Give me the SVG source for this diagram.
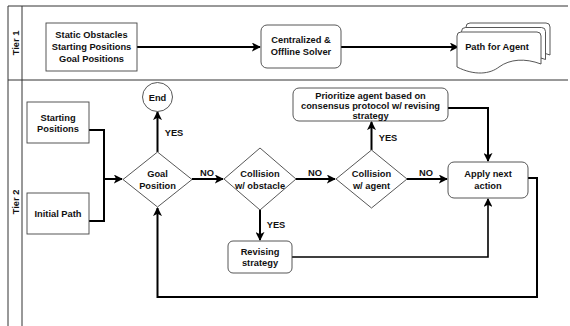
<svg xmlns="http://www.w3.org/2000/svg" width="570" height="326" viewBox="0 0 570 326">
<style>
text{font-family:"Liberation Sans",Arial,sans-serif;font-weight:bold;font-size:9.3px;fill:#111;text-anchor:middle}
.shape{fill:#fff;stroke:#444;stroke-width:0.9}
.frame{fill:none;stroke:#333;stroke-width:1}
.conn{fill:none;stroke:#000;stroke-width:2}
.conn1{fill:none;stroke:#000;stroke-width:1.6}
</style>
<defs>
<marker id="ah" viewBox="0 0 10 10" refX="9" refY="5" markerWidth="4.5" markerHeight="4.5" orient="auto" markerUnits="strokeWidth">
<path d="M0,0 L10,5 L0,10 L2.5,5 Z" fill="#000"/>
</marker>
<marker id="ah1" viewBox="0 0 10 10" refX="9" refY="5" markerWidth="5.5" markerHeight="5.5" orient="auto" markerUnits="strokeWidth">
<path d="M0,0 L10,5 L0,10 L2.5,5 Z" fill="#000"/>
</marker>
</defs>
<rect width="570" height="326" fill="#fff"/>
<g id="lanes">
<line class="frame" x1="8" y1="6" x2="568" y2="6"/>
<line class="frame" x1="8" y1="80" x2="568" y2="80"/>
<line class="frame" x1="8" y1="6" x2="8" y2="326"/>
<line class="frame" x1="22" y1="6" x2="22" y2="326"/>
<text transform="translate(18.5,43) rotate(-90)">Tier 1</text>
<text transform="translate(18.5,202) rotate(-90)">Tier 2</text>
</g>
<g id="connectors">
<line class="conn" x1="137" y1="47" x2="260" y2="47" marker-end="url(#ah)"/>
<line class="conn" x1="341" y1="47" x2="458" y2="47" marker-end="url(#ah)"/>
<polyline class="conn" points="89,130 104,130 104,221 89,221"/>
<line class="conn" x1="104" y1="179" x2="122" y2="179" marker-end="url(#ah)"/>
<line class="conn" x1="157.5" y1="152" x2="157.5" y2="112" marker-end="url(#ah)"/>
<line class="conn" x1="192" y1="179" x2="223" y2="179" marker-end="url(#ah)"/>
<line class="conn" x1="296" y1="179" x2="335" y2="179" marker-end="url(#ah)"/>
<line class="conn" x1="407" y1="179" x2="447" y2="179" marker-end="url(#ah)"/>
<line class="conn" x1="371.5" y1="150" x2="371.5" y2="122" marker-end="url(#ah)"/>
<polyline class="conn" points="448,108 488,108 488,161" marker-end="url(#ah)"/>
<line class="conn" x1="260" y1="210" x2="260" y2="240" marker-end="url(#ah)"/>
<polyline class="conn1" points="292,257 488,257 488,199" marker-end="url(#ah1)"/>
<polyline class="conn" points="528,178 537,178 537,297 157.5,297 157.5,208" marker-end="url(#ah)"/>
<text x="174" y="136">YES</text>
<text x="207" y="176">NO</text>
<text x="315" y="176">NO</text>
<text x="426" y="176">NO</text>
<text x="388" y="141">YES</text>
<text x="276" y="228">YES</text>
</g>
<g id="inputs-t1">
<rect class="shape" x="46" y="23" width="91" height="48"/>
<text x="91.5" y="38">Static Obstacles</text>
<text x="91.5" y="50">Starting Positions</text>
<text x="91.5" y="62">Goal Positions</text>
</g>
<g id="solver">
<rect class="shape" x="261" y="25" width="80" height="43" rx="6"/>
<text x="301" y="43">Centralized &amp;</text>
<text x="301" y="55">Offline Solver</text>
</g>
<g id="path-agent">
<path class="shape" d="M466,27 Q466,23 470,23 L546,23 Q550,23 550,27 L550,55 C534,49 519,50 508,58 C499,65 484,67 466,58 Z"/>
<path class="shape" d="M461.5,31.5 Q461.5,27.5 465.5,27.5 L541.5,27.5 Q545.5,27.5 545.5,31.5 L545.5,59.5 C529.5,53.5 514.5,54.5 503.5,62.5 C494.5,69.5 479.5,71.5 461.5,62.5 Z"/>
<path class="shape" d="M457,36 Q457,32 461,32 L537,32 Q541,32 541,36 L541,64 C525,58 510,59 499,67 C490,74 475,76 457,67 Z"/>
<text x="497" y="50">Path for Agent</text>
</g>
<g id="start-pos">
<rect class="shape" x="27" y="102" width="62" height="41"/>
<text x="58" y="121">Starting</text>
<text x="58" y="132">Positions</text>
</g>
<g id="initial-path">
<rect class="shape" x="27" y="193" width="62" height="41"/>
<text x="58" y="217">Initial Path</text>
</g>
<g id="end">
<ellipse class="shape" cx="157.5" cy="97" rx="15" ry="14.5"/>
<text x="157.5" y="100.5">End</text>
</g>
<g id="goal">
<polygon class="shape" points="157.5,152 192,179.5 157.5,207 123,179.5"/>
<text x="157.5" y="177">Goal</text>
<text x="157.5" y="189">Position</text>
</g>
<g id="coll-obstacle">
<polygon class="shape" points="260,148 296,179 260,210 224,179"/>
<text x="260" y="177">Collision</text>
<text x="260" y="189">w/ obstacle</text>
</g>
<g id="coll-agent">
<polygon class="shape" points="371.5,150 407,179 371.5,208 336,179"/>
<text x="371.5" y="177">Collision</text>
<text x="371.5" y="189">w/ agent</text>
</g>
<g id="prioritize">
<rect class="shape" x="293" y="88" width="155" height="33" rx="6"/>
<text x="370.5" y="99">Prioritize agent based on</text>
<text x="370.5" y="109">consensus protocol w/ revising</text>
<text x="370.5" y="119">strategy</text>
</g>
<g id="apply">
<rect class="shape" x="448" y="162" width="80" height="36" rx="6"/>
<text x="488" y="177">Apply next</text>
<text x="488" y="189">action</text>
</g>
<g id="revising">
<rect class="shape" x="228" y="241" width="64" height="32" rx="5"/>
<text x="260" y="255">Revising</text>
<text x="260" y="266">strategy</text>
</g>
</svg>
